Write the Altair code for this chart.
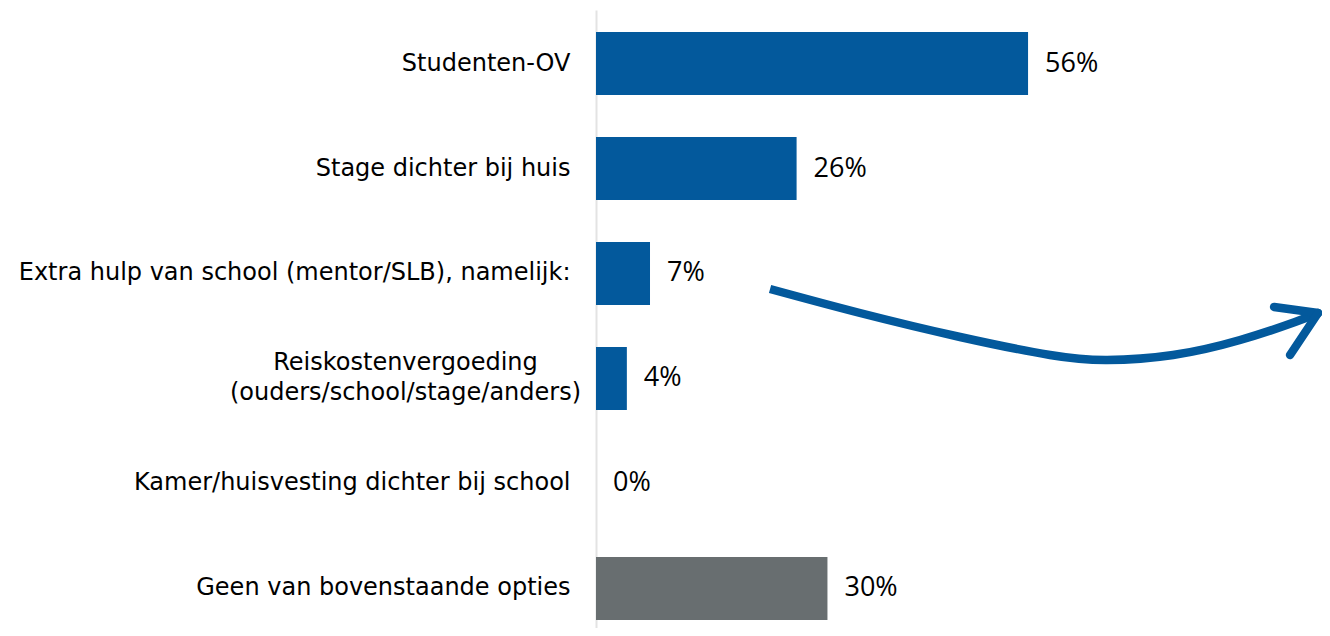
import altair as alt
import pandas as pd

# ---- data ----
categories = [
    "Studenten-OV",
    "Stage dichter bij huis",
    "Extra hulp van school (mentor/SLB), namelijk:",
    "Reiskostenvergoeding|(ouders/school/stage/anders)",
    "Kamer/huisvesting dichter bij school",
    "Geen van bovenstaande opties",
]
values = [56, 26, 7, 4, 0, 30]
groups = ["optie", "optie", "optie", "optie", "optie", "geen"]

# decorative arrow (x in % units, y in arrow-space units from top)
arrow_x = [22.56, 34.22, 47.19, 58.85, 66.24, 74.80, 83.48, 90.61, 93.59]
arrow_y = [279, 303, 327, 345, 350, 345, 330, 312, 303]
head_seg = ["a", "a", "b", "b"]
head_x = [87.89, 93.59, 89.96, 93.59]
head_y = [297, 303, 345, 303]

BLUE = "#03599c"
GRAY = "#686e70"
H = 618
W = 726

df = pd.DataFrame({"cat": categories, "val": values, "grp": groups})
df["lbl"] = df["val"].astype(str) + "%"
arrow_df = pd.DataFrame({"x": arrow_x, "y": arrow_y})
head_df = pd.DataFrame({"seg": head_seg, "x": head_x, "y": head_y})

multi = "Reiskostenvergoeding|(ouders/school/stage/anders)"
is_multi = f"datum.value === '{multi}'"
xscale = alt.Scale(domain=[0, 94.1], nice=False, zero=True)
yscale = alt.Scale(type="band", paddingInner=0.4, paddingOuter=0.143, align=0.733, round=False)

bars = alt.Chart(df).mark_bar().encode(
    x=alt.X("val:Q", scale=xscale, axis=None),
    y=alt.Y(
        "cat:N",
        sort=None,
        scale=yscale,
        title=None,
        axis=alt.Axis(
            ticks=False,
            grid=False,
            domainColor="#e3e3e3",
            domainWidth=2,
            labelFont="DejaVu Sans",
            labelFontSize=24,
            labelColor="#000000",
            labelLimit=0,
            labelLineHeight=30,
            labelBaseline="middle",
            labelExpr="split(datum.label, '|')",
            labelAlign={"condition": {"test": is_multi, "value": "center"}, "value": "right"},
            labelPadding={"condition": {"test": is_multi, "value": 191}, "value": 26},
            labelOffset={"condition": {"test": is_multi, "value": -15}, "value": 0},
        ),
    ),
    color=alt.Color(
        "grp:N",
        scale=alt.Scale(domain=["optie", "geen"], range=[BLUE, GRAY]),
        legend=None,
    ),
)

text = alt.Chart(df).mark_text(
    align="left", baseline="middle", dx=17, font="Open Sans", fontSize=27, color="#000000"
).encode(
    x=alt.X("val:Q", scale=xscale, axis=None),
    y=alt.Y("cat:N", sort=None, scale=yscale, axis=None),
    text="lbl:N",
)

curve = alt.Chart(arrow_df).mark_line(
    color=BLUE, strokeWidth=8.5, interpolate="natural", strokeCap="butt"
).encode(
    x=alt.X("x:Q", scale=xscale, axis=None),
    y=alt.Y("y:Q", scale=alt.Scale(domain=[H, 0], nice=False, zero=False), axis=None),
    order=alt.Order("x:Q"),
)

head = alt.Chart(head_df).mark_line(color=BLUE, strokeWidth=8.5, strokeCap="round").encode(
    x=alt.X("x:Q", scale=xscale, axis=None),
    y=alt.Y("y:Q", scale=alt.Scale(domain=[H, 0], nice=False, zero=False), axis=None),
    detail="seg:N",
)

chart = (
    alt.layer(bars, text, curve, head)
    .resolve_scale(y="independent", color="independent")
    .properties(
        width=W,
        height=H,
        autosize=alt.AutoSizeParams(type="none"),
        padding={"left": 588, "top": 2, "right": 0, "bottom": 0},
        background="white",
    )
    .configure_view(stroke=None)
)

chart.save("out.html", embed_options={"renderer": "svg", "actions": False})
